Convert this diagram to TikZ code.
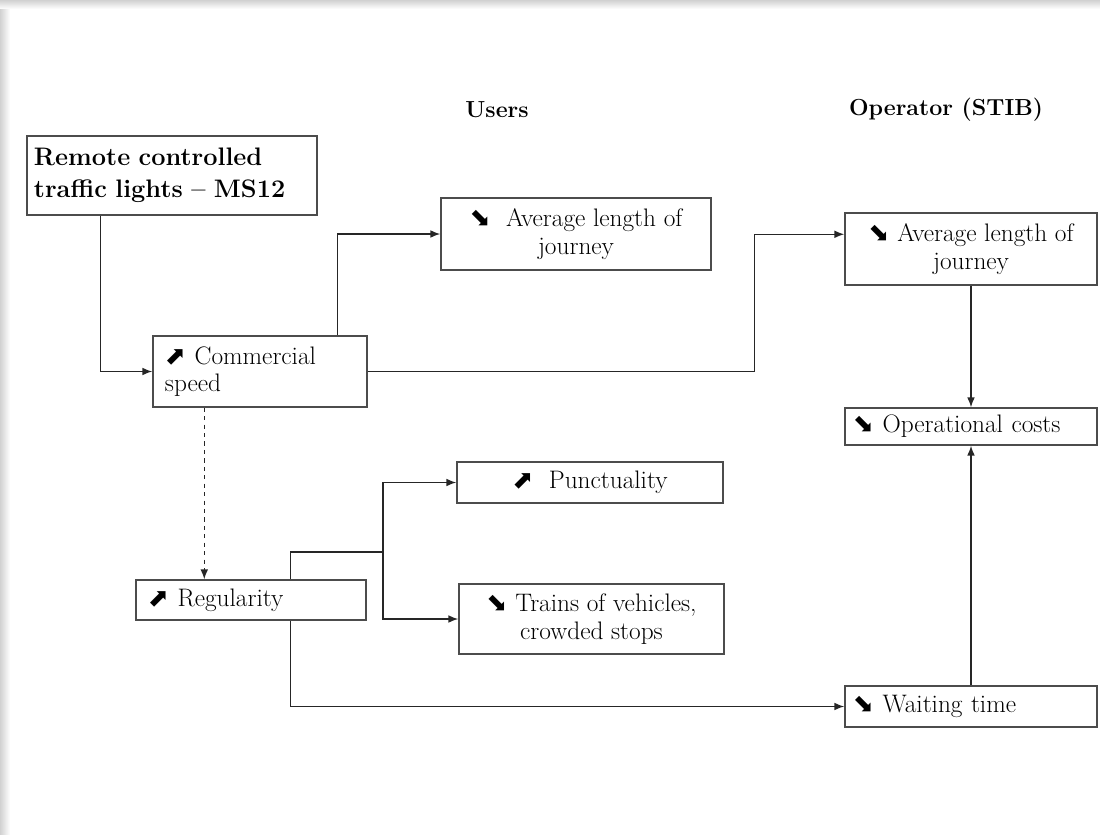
\documentclass[tikz,border=0pt]{standalone}
\usepackage{fontspec}
\usepackage{xcolor}
\usepackage{tikz}
\usetikzlibrary{arrows.meta,calc}
\newfontfamily\symfont{DejaVu Sans}
\newcommand{\up}{{\symfont\char"2B08}}
\newcommand{\dn}{{\symfont\char"2B0A}}

\begin{document}
\begin{tikzpicture}[
    x=0.025cm, y=-0.025cm,
    box/.style={rectangle, draw=black!70, line width=1pt, fill=white, inner ysep=0pt,
                align=center, font=\fontsize{18}{19.4}\selectfont},
    lbox/.style={box, align=left, inner xsep=0.3cm},
    head/.style={font=\fontsize{16.5}{19.2}\selectfont\bfseries},
    arr/.style={-{Latex[length=7pt,width=5.5pt]}, line width=1pt, color=black!85},
    lin/.style={line width=1pt, color=black!85}
]
\useasboundingbox (0,0) rectangle (1100,835);

% page shadow
\shade[top color=black!18, bottom color=white] (0,0) rectangle (1100,9);
\shade[left color=black!18, right color=white] (0,9) rectangle (10,835);

% Headers
\node[head] (users) at (497,110) {Users};
\node[head] (oper)  at (946,110) {Operator (STIB)};

% Measure
\node[lbox, text width=6.9cm, inner xsep=0.175cm, minimum height=1.975cm,
      font=\fontsize{18}{22.5}\selectfont\bfseries] (ms12) at (172,175.5)
      {Remote controlled\\traffic lights -- MS12};

% Users
\node[box, minimum width=6.75cm, minimum height=1.8cm] (uavg) at (576,234)
      {\dn\ \ Average length of\\journey};
\node[lbox, text width=4.75cm, minimum height=1.775cm] (speed) at (260,371.5)
      {\up\ Commercial\\speed};
\node[box, minimum width=6.65cm, minimum height=1.025cm] (punct) at (590,482.5)
      {\up\ \ Punctuality};
\node[lbox, text width=5.15cm, minimum height=1cm] (reg) at (251,600)
      {\up\ Regularity};
\node[box, minimum width=6.625cm, minimum height=1.75cm] (trains) at (591.5,619)
      {\dn\ Trains of vehicles,\\crowded stops};

% Operator
\node[box, minimum width=6.3cm, minimum height=1.8cm] (oavg) at (971,249)
      {\dn\ Average length of\\journey};
\node[lbox, inner xsep=0.2cm, text width=5.9cm, minimum height=0.925cm] (opcost) at (971,426.5)
      {\dn\ Operational costs};
\node[lbox, inner xsep=0.2cm, text width=5.9cm, minimum height=1.025cm] (wait) at (971,706.5)
      {\dn\ Waiting time};

% Arrows
\coordinate (msout) at ($(ms12.south west)+(74,0)$);
\coordinate (spup)  at ($(speed.north west)+(185,0)$);
\coordinate (spdn)  at ($(speed.south west)+(52,0)$);
\coordinate (regup) at ($(reg.north west)+(155,0)$);
\coordinate (regdn) at ($(reg.south west)+(155,0)$);
\coordinate (oin)   at ($(oavg.north west)+(0,22)$);
\coordinate (split) at (383,552);

\draw[arr] (msout) |- (speed.west);
\draw[arr] (spup) |- (uavg.west);
\draw[arr] (speed.east) -| ($(oin)+(-90,0)$) -- (oin);
\draw[arr, dashed] (spdn) -- (spdn |- reg.north);
\draw[lin] (regup) |- (split);
\draw[arr] (split) |- (punct.west);
\draw[arr] (split) |- (trains.west);
\draw[arr] (regdn) |- (wait.west);
\draw[arr] (oavg) -- (opcost);
\draw[arr] (wait) -- (opcost);

\end{tikzpicture}
\end{document}
